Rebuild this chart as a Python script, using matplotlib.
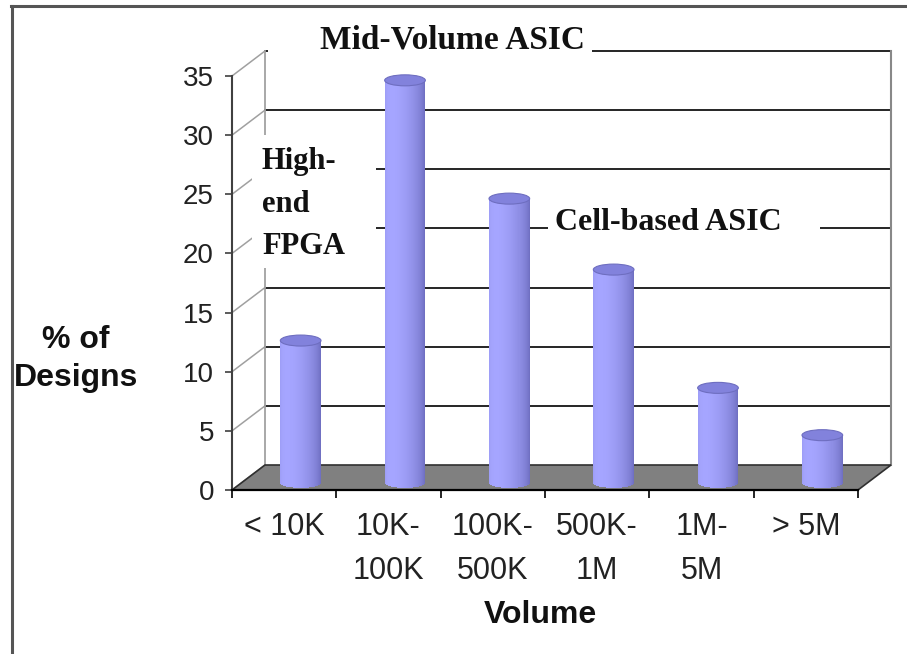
import numpy as np
import matplotlib
matplotlib.use('Agg')
import matplotlib.pyplot as plt
import matplotlib.transforms as mtransforms
from matplotlib.patches import Rectangle, Ellipse, Polygon
from matplotlib.lines import Line2D

# data
categories = ['< 10K', '10K-\n100K', '100K-\n500K', '500K-\n1M', '1M-\n5M', '> 5M']
values = [12, 34, 24, 18, 8, 4]
yticks = [0, 5, 10, 15, 20, 25, 30, 35]

W, H = 907, 654
fig = plt.figure(figsize=(W / 100, H / 100), dpi=100)
ax = fig.add_axes([232 / W, 164 / H, 626 / W, 414 / H])
ax.set_xlim(-0.5, len(values) - 0.5)
ax.set_ylim(0, 35)
ax.patch.set_visible(False)

# fake depth: back wall shifted right/up
dx, dy = 0.33, 0.25
back = ax.transData + mtransforms.ScaledTranslation(dx, dy, fig.dpi_scale_trans)
mid = ax.transData + mtransforms.ScaledTranslation(dx / 2, 0.075, fig.dpi_scale_trans)
ident = mtransforms.IdentityTransform()
x0, x1 = ax.get_xlim()

# back wall grid
for v in yticks[1:]:
    ax.add_line(Line2D([x0, x1], [v, v], color='black', lw=1.2, transform=back,
                       zorder=1, clip_on=False))
ax.add_line(Line2D([x1, x1], [0, 35], color='#888888', lw=1.5, transform=back,
                   zorder=1, clip_on=False))
ax.add_line(Line2D([x0, x0], [0, 35], color='#999999', lw=1.2, transform=back,
                   zorder=1, clip_on=False))

# left wall diagonals
for v in yticks:
    p = ax.transData.transform((x0, v))
    q = back.transform((x0, v))
    ax.add_line(Line2D([p[0], q[0]], [p[1], q[1]], color='#a0a0a0', lw=1.1,
                       transform=ident, zorder=1, clip_on=False))

# floor
pts = [ax.transData.transform((x0, 0)), ax.transData.transform((x1, 0)),
       back.transform((x1, 0)), back.transform((x0, 0))]
ax.add_patch(Polygon(pts, closed=True, facecolor='#808080', edgecolor='#303030', lw=1.2,
                     transform=ident, zorder=2, clip_on=False))

# cylinders
ppu = ax.transData.transform((0, 1))[1] - ax.transData.transform((0, 0))[1]
eh = 11 / ppu
w = 0.39
ns = 40
light = np.array([165, 165, 255]) / 255
dark = np.array([92, 92, 172]) / 255
for i, v in enumerate(values):
    for k in range(ns):
        u = -1 + 2 * (k + 0.5) / ns
        th = np.arcsin(u)
        f = 0.5 + 0.5 * np.cos(th + 0.7)
        col = dark + (light - dark) * f
        yb = -eh / 2 * np.sqrt(1 - u * u)
        ax.add_patch(Rectangle((i - w / 2 + k * w / ns, yb), w / ns * 1.1, v - yb,
                               facecolor=col, edgecolor='none', transform=mid,
                               zorder=3, clip_on=False))
    ax.add_patch(Ellipse((i, v), w, eh, facecolor='#8282DC', edgecolor='#6E6EC0',
                         lw=0.8, transform=mid, zorder=4, clip_on=False))

# axes styling
for s in ['top', 'right']:
    ax.spines[s].set_visible(False)
ax.spines['left'].set_color('#404040')
ax.spines['left'].set_linewidth(1.5)
ax.spines['bottom'].set_color('black')
ax.spines['bottom'].set_linewidth(1.6)
ax.spines['left'].set_zorder(5)
ax.spines['bottom'].set_zorder(5)

sans = 'Liberation Sans'
ax.set_yticks(yticks)
ax.tick_params(axis='y', length=5, width=1.2, pad=8, labelsize=20, colors='#404040',
               labelcolor='#222222')
ax.set_xticks(np.arange(-0.5, len(values), 1.0))
ax.set_xticklabels([])
ax.set_xticks(np.arange(len(values)), minor=True)
ax.set_xticklabels(categories, minor=True, fontsize=22, color='#222222', linespacing=1.62)
ax.tick_params(axis='x', which='major', length=6, width=1.2, direction='out')
ax.tick_params(axis='x', which='minor', length=0, pad=16)
for t in ax.get_xticklabels(minor=True) + ax.get_yticklabels():
    t.set_family(sans)

# annotation boxes
def white_box(xa, ya, xb, yb):
    fig.patches.append(Rectangle((xa / W, 1 - yb / H), (xb - xa) / W, (yb - ya) / H,
                                 facecolor='white', edgecolor='none',
                                 transform=fig.transFigure, zorder=6))

white_box(268, 22, 592, 62)
white_box(252, 135, 376, 268)
white_box(548, 198, 820, 246)

serif = dict(family='Liberation Serif', weight='bold', color='#111111', zorder=7)
fig.text(452 / W, 1 - 40 / H, 'Mid-Volume ASIC', ha='center', va='center', size=24, **serif)
fig.text(668 / W, 1 - 222 / H, 'Cell-based ASIC', ha='center', va='center', size=23, **serif)
fig.text(262 / W, 1 - 204 / H, 'High-\nend\nFPGA', ha='left', va='center', size=22,
         linespacing=1.6, **serif)

fig.text(76 / W, 1 - 359 / H, '% of\nDesigns', ha='center', va='center', family=sans,
         weight='bold', size=23, linespacing=1.34, color='#111111')
fig.text(540 / W, 1 - 615 / H, 'Volume', ha='center', va='center', family=sans,
         weight='bold', size=23, color='#111111')

# outer frame
fig.add_artist(Line2D([11.5 / W, 11.5 / W], [0, 1 - 6 / H], color='#555555', lw=2.2,
                      transform=fig.transFigure))
fig.add_artist(Line2D([11 / W, 1], [1 - 6 / H, 1 - 6 / H], color='#555555', lw=2.2,
                      transform=fig.transFigure))

fig.savefig('out.png', dpi=100)
